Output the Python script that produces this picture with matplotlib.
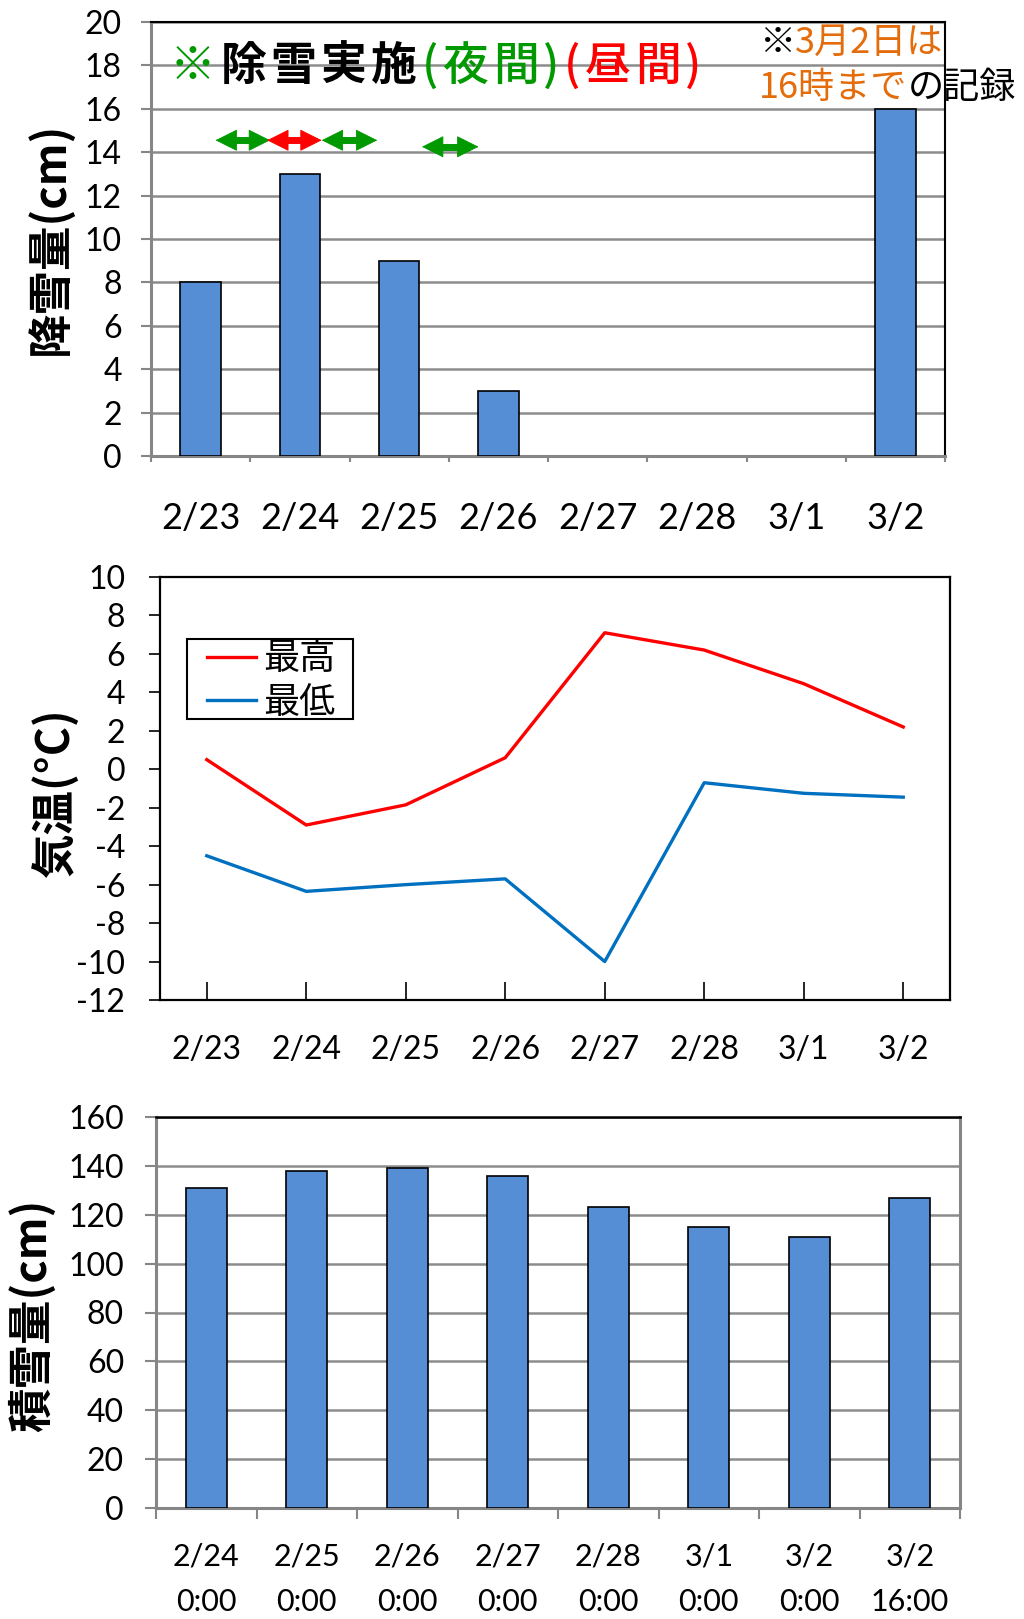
import matplotlib
matplotlib.use('Agg')
import matplotlib.pyplot as plt
import numpy as np
from matplotlib.offsetbox import TextArea, HPacker, AnchoredOffsetbox
from matplotlib.patches import Rectangle

plt.rcParams['font.family'] = ['Lato', 'Noto Sans CJK JP', 'DejaVu Sans']
plt.rcParams['axes.unicode_minus'] = False

# ---------------- data ----------------
days = ['2/23', '2/24', '2/25', '2/26', '2/27', '2/28', '3/1', '3/2']
snowfall = [8, 13, 9, 3, 0, 0, 0, 16]
temp_max = [0.5, -2.9, -1.85, 0.6, 7.1, 6.2, 4.45, 2.2]
temp_min = [-4.5, -6.35, -6.0, -5.7, -10.0, -0.7, -1.25, -1.45]
depth_labels = ['2/24\n0:00', '2/25\n0:00', '2/26\n0:00', '2/27\n0:00',
                '2/28\n0:00', '3/1\n0:00', '3/2\n0:00', '3/2\n16:00']
snow_depth = [131, 138, 139, 136, 123, 115, 111, 127]

# snow-removal periods (day index units) drawn as double arrows
arrow_start = [0.15, 0.67, 1.22, 2.23]
arrow_end = [0.70, 1.22, 1.78, 2.80]
arrow_y = [14.55, 14.55, 14.55, 14.25]
arrow_color = ['#009900', '#FF0000', '#009900', '#009900']

# ---------------- style ----------------
W, H = 1024, 1619
GRID = '#8c8c8c'
AXG = '#868686'
BAR = '#558ED5'
GREEN = '#009900'
RED = '#FF0000'
ORANGE = '#E46C0A'
CJK = ['Noto Sans CJK JP', 'DejaVu Sans']

fig = plt.figure(figsize=(W / 100, H / 100), dpi=100)


def px_axes(l, t, r, b):
    return fig.add_axes([l / W, 1 - b / H, (r - l) / W, (b - t) / H])


ax1 = px_axes(151, 22, 945, 456)
ax2 = px_axes(160, 577, 950, 1000)
ax3 = px_axes(156, 1117, 960, 1508)

x = np.arange(len(days))

# ---------------- top: snowfall ----------------
edge1 = ['black' if v > 0 else 'none' for v in snowfall]
ax1.bar(x, snowfall, width=0.41, color=BAR, edgecolor=edge1, linewidth=1.2, zorder=3)
ax1.set_xlim(-0.5, 7.5)
ax1.set_ylim(0, 20)
ax1.set_yticks(np.arange(0, 21, 2))
ax1.yaxis.grid(True, color=GRID, linewidth=1.8)
ax1.set_axisbelow(True)
ax1.set_xticks(x)
ax1.set_xticklabels(days)
ax1.set_xticks(np.arange(-0.5, 8, 1), minor=True)
ax1.tick_params(axis='x', which='major', length=0, pad=33, labelsize=26)
ax1.tick_params(axis='x', which='minor', length=4, width=1.5, color=AXG)
ax1.tick_params(axis='y', length=7, width=1.5, color=AXG, pad=14, labelsize=23)
for s in ['top', 'right']:
    ax1.spines[s].set_color('black')
    ax1.spines[s].set_linewidth(1.5)
for s in ['left', 'bottom']:
    ax1.spines[s].set_color(AXG)
    ax1.spines[s].set_linewidth(2.2)

# double arrows: shaft + heads
head_frac = 0.09  # shaft trimmed so the tips stay sharp
for xs, xe, ya, c in zip(arrow_start, arrow_end, arrow_y, arrow_color):
    ax1.plot([xs + head_frac, xe - head_frac], [ya, ya], color=c, lw=5.0,
             solid_capstyle='butt', zorder=5)
    ax1.annotate('', xy=(xe, ya), xytext=(xs, ya),
                 arrowprops=dict(arrowstyle='<|-|>,head_length=0.9,head_width=0.45',
                                 mutation_scale=16, color=c, lw=0.6,
                                 shrinkA=0, shrinkB=0), zorder=6)


def colored_line(parts, x_px, y_px, fs, sep=0.0, split=False):
    boxes = []
    for t, c, w in parts:
        pieces = list(t) if split else [t]
        for p in pieces:
            boxes.append(TextArea(p, textprops=dict(color=c, fontsize=fs, fontweight=w,
                                                    family=CJK)))
    pk = HPacker(children=boxes, align='baseline', pad=0, sep=sep)
    ab = AnchoredOffsetbox(loc='center left', child=pk, pad=0, borderpad=0, frameon=False,
                           bbox_to_anchor=(x_px / W, 1 - y_px / H),
                           bbox_transform=fig.transFigure)
    fig.add_artist(ab)


colored_line([('※', GREEN, 'bold'), ('除雪実施', 'black', 'bold'),
              ('(夜間)', GREEN, 'medium'), ('(昼間)', RED, 'medium')],
             170, 66, 33, sep=3.2, split=True)
colored_line([('※', 'black', 'normal'), ('3月2日は', ORANGE, 'normal')], 759, 43, 26)
colored_line([('16時まで', ORANGE, 'normal'), ('の記録', 'black', 'normal')], 759, 88, 26)

# ---------------- middle: temperature ----------------
ax2.plot(x, temp_max, color='#FF0000', lw=2.4, label='最高')
ax2.plot(x, temp_min, color='#0070C0', lw=2.4, label='最低')
ax2.set_xlim(-0.47, 7.47)
ax2.set_ylim(-12, 10)
ax2.set_yticks(np.arange(-12, 11, 2))
ax2.set_xticks(x)
ax2.set_xticklabels(days)
ax2.tick_params(axis='x', direction='in', length=13, width=1.2, color='black', pad=25, labelsize=23)
ax2.tick_params(axis='y', direction='out', length=8, width=1.2, pad=17, labelsize=23)
for s in ax2.spines.values():
    s.set_color('black')
    s.set_linewidth(1.6)
# legend frame (box) and entries
ax2.add_patch(Rectangle((0.0342, 0.6643), 0.2101, 0.1891, transform=ax2.transAxes,
                        facecolor='white', edgecolor='black', linewidth=1.5, zorder=4))
leg = ax2.legend(loc='upper left', bbox_to_anchor=(0.060, 0.848), borderaxespad=0,
                 frameon=False, prop=dict(family=CJK, size=26), handlelength=1.35,
                 handletextpad=0.2, borderpad=0, labelspacing=0.2)
leg.set_zorder(5)

# ---------------- bottom: snow depth ----------------
ax3.bar(x, snow_depth, width=0.41, color=BAR, edgecolor='black', linewidth=1.2, zorder=3)
ax3.set_xlim(-0.5, 7.5)
ax3.set_ylim(0, 160)
ax3.set_yticks(np.arange(0, 161, 20))
ax3.yaxis.grid(True, color=GRID, linewidth=1.8)
ax3.set_axisbelow(True)
ax3.set_xticks(x)
ax3.set_xticklabels(depth_labels)
ax3.set_xticks(np.arange(-0.5, 8, 1), minor=True)
ax3.tick_params(axis='x', which='major', length=0, pad=25, labelsize=22)
ax3.tick_params(axis='x', which='minor', length=8, width=1.5, color=AXG)
ax3.tick_params(axis='y', length=8, width=1.5, color=AXG, pad=15, labelsize=23)
for lab in ax3.get_xticklabels():
    lab.set_linespacing(1.75)
ax3.spines['top'].set_color('black')
ax3.spines['top'].set_linewidth(1.8)
for s in ['left', 'bottom', 'right']:
    ax3.spines[s].set_color(AXG)
    ax3.spines[s].set_linewidth(2.2)

# ---------------- axis titles ----------------
fig.text(50 / W, 1 - 238 / H, '降雪量(cm)', rotation=90, ha='center', va='center',
         fontsize=32, fontweight='bold', family=CJK)
fig.text(56 / W, 1 - 792 / H, '気温(°C)', rotation=90, ha='center', va='center',
         fontsize=32, fontweight='bold', family=CJK)
fig.text(32 / W, 1 - 1315 / H, '積雪量(cm)', rotation=90, ha='center', va='center',
         fontsize=32, fontweight='bold', family=CJK)

fig.savefig('out.png', dpi=100)
